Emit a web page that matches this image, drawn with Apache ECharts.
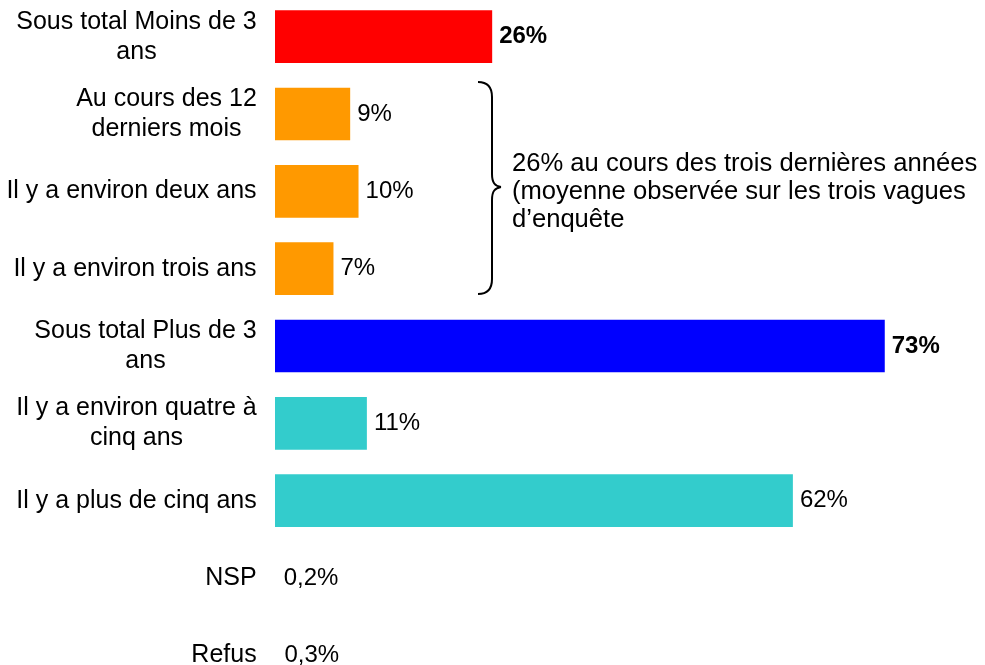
<!DOCTYPE html>
<html><head><meta charset="utf-8">
<script src="https://cdn.jsdelivr.net/npm/echarts@6/dist/echarts.min.js"></script>
<style>html,body{margin:0;padding:0;background:#fff}#c{width:985px;height:665px}</style>
</head><body><div id="c"></div>
<script>
const categories = [
  "Sous total Moins de 3\nans",
  "Au cours des 12\nderniers mois",
  "Il y a environ deux ans",
  "Il y a environ trois ans",
  "Sous total Plus de 3\nans",
  "Il y a environ quatre à\ncinq ans",
  "Il y a plus de cinq ans",
  "NSP",
  "Refus"
];
const values = [26, 9, 10, 7, 73, 11, 62, 0.2, 0.3];
const valueLabels = ["26%", "9%", "10%", "7%", "73%", "11%", "62%", "0,2%", "0,3%"];
const barColors = ["#FF0000", "#FF9900", "#FF9900", "#FF9900", "#0000FF", "#33CCCC", "#33CCCC", "#FFFFFF", "#FFFFFF"];
const boldRows = [true, false, false, false, true, false, false, false, false];
const braceText = "26% au cours des trois dernières années\n(moyenne observée sur les trois vagues\nd’enquête";

const FONT = '"Liberation Sans", Arial, sans-serif';
const CAT_SIZE = 25;
const cv = document.createElement('canvas').getContext('2d');
cv.font = CAT_SIZE + 'px "Liberation Sans"';
const rich = {};
categories.forEach((c, i) => {
  const w = Math.max(...c.split('\n').map(l => cv.measureText(l).width));
  rich['w' + i] = {width: Math.ceil(w), align: 'center', fontSize: CAT_SIZE, lineHeight: 30, color: '#000', fontFamily: FONT};
});

const braceStyle = {fill: null, stroke: '#000', lineWidth: 2};
const chart = echarts.init(document.getElementById('c'), null, {renderer: 'canvas'});
chart.setOption({
  animation: false,
  grid: {left: 275, top: -2, width: 710, height: 696, containLabel: false, outerBoundsMode: 'none'},
  xAxis: {type: 'value', min: 0, max: 85, show: false},
  yAxis: {
    type: 'category', inverse: true, data: categories,
    axisLine: {show: false}, axisTick: {show: false},
    axisLabel: {
      margin: 18, fontSize: CAT_SIZE, color: '#000', fontFamily: FONT, lineHeight: 30,
      formatter: (v, i) => v.split('\n').map(l => '{w' + i + '|' + l + '}').join('\n'),
      rich: rich
    }
  },
  series: [{
    type: 'bar', barCategoryGap: '32%',
    data: values.map((v, i) => ({value: v, itemStyle: {color: barColors[i]},
      label: {fontWeight: boldRows[i] ? 'bold' : 'normal'}})),
    label: {
      show: true, position: 'right', distance: 7, fontSize: 24, color: '#000', fontFamily: FONT,
      formatter: p => valueLabels[p.dataIndex]
    }
  }],
  graphic: [
    {type: 'bezierCurve', shape: {x1: 478, y1: 82, cpx1: 488, cpy1: 82, cpx2: 492, cpy2: 87, x2: 492, y2: 97}, style: braceStyle},
    {type: 'line', shape: {x1: 492, y1: 97, x2: 492, y2: 174}, style: braceStyle},
    {type: 'bezierCurve', shape: {x1: 492, y1: 174, cpx1: 492, cpy1: 183, cpx2: 495, cpy2: 186, x2: 501, y2: 187}, style: braceStyle},
    {type: 'bezierCurve', shape: {x1: 501, y1: 187, cpx1: 495, cpy1: 188, cpx2: 492, cpy2: 191, x2: 492, y2: 200}, style: braceStyle},
    {type: 'line', shape: {x1: 492, y1: 200, x2: 492, y2: 279}, style: braceStyle},
    {type: 'bezierCurve', shape: {x1: 492, y1: 279, cpx1: 492, cpy1: 289, cpx2: 488, cpy2: 294, x2: 478, y2: 294}, style: braceStyle},
    {type: 'text', left: 512, top: 150, style: {text: braceText, font: '25.6px ' + FONT, lineHeight: 28, fill: '#000'}}
  ]
});
</script></body></html>
